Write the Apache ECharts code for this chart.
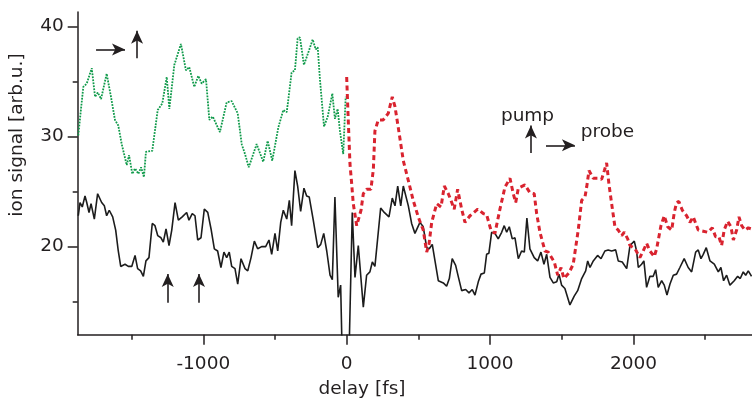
<!DOCTYPE html>
<html>
<head>
<meta charset="utf-8">
<script src="https://cdn.jsdelivr.net/npm/echarts@6/dist/echarts.min.js"></script>
<style>
  html, body { margin: 0; padding: 0; background: #fff; }
  #chart { width: 752px; height: 398px; }
</style>
</head>
<body>
<div id="chart"></div>
<script>
// delay [fs], ion signal [arb.u.]
const greenTrace = [
  [-1872,30.1],[-1837,34.5],[-1813,34.8],[-1778,36.2],[-1755,33.6],[-1736,34.0],[-1713,33.4],
  [-1674,35.7],[-1644,33.6],[-1616,31.5],[-1593,31.0],[-1569,29.3],[-1534,27.4],[-1518,28.3],
  [-1495,26.6],[-1476,27.1],[-1453,26.6],[-1434,27.2],[-1414,26.3],[-1400,28.6],[-1356,28.7],
  [-1318,32.4],[-1286,33.0],[-1255,35.4],[-1237,32.5],[-1202,36.5],[-1156,38.4],[-1121,36.0],
  [-1098,36.3],[-1063,34.5],[-1035,35.5],[-1011,34.8],[-981,35.2],[-958,31.5],[-934,31.8],
  [-884,30.4],[-837,33.1],[-802,33.2],[-760,32.1],[-732,29.3],[-709,28.4],[-683,27.2],[-628,29.3],
  [-582,27.7],[-551,29.6],[-519,27.8],[-477,30.8],[-442,32.4],[-418,32.2],[-384,35.8],[-361,36.0],
  [-342,38.9],[-326,39.0],[-298,36.5],[-263,37.8],[-237,38.8],[-216,37.9],[-202,38.1],[-186,35.1],
  [-158,30.9],[-132,31.8],[-100,33.9],[-82,31.6],[-63,32.5],[-47,30.5],[-24,28.4],[-7,33.6]
];

const blackTrace = [
  [-1872,22.8],[-1860,24.0],[-1844,23.6],[-1825,24.6],[-1813,24.0],[-1797,23.1],[-1783,23.9],
  [-1760,22.5],[-1737,24.8],[-1709,24.0],[-1690,23.7],[-1674,22.8],[-1656,23.3],[-1632,22.7],
  [-1611,21.5],[-1593,19.6],[-1576,18.2],[-1546,18.4],[-1523,18.2],[-1499,18.2],[-1476,19.2],
  [-1458,18.0],[-1437,17.8],[-1418,17.3],[-1400,18.7],[-1379,19.0],[-1356,22.1],[-1337,21.9],
  [-1318,21.0],[-1295,20.8],[-1279,20.4],[-1260,21.6],[-1239,20.1],[-1220,21.5],[-1197,24.0],
  [-1174,22.4],[-1147,22.7],[-1116,23.1],[-1100,22.4],[-1077,23.0],[-1058,22.8],[-1039,20.6],
  [-1016,20.8],[-993,23.4],[-969,23.1],[-946,21.6],[-923,19.8],[-900,19.6],[-877,18.1],
  [-856,19.5],[-837,19.0],[-819,19.5],[-802,18.2],[-779,18.0],[-760,16.6],[-737,18.9],
  [-709,18.0],[-690,17.8],[-667,19.0],[-644,20.5],[-621,19.8],[-593,20.0],[-565,20.0],
  [-542,20.6],[-523,19.3],[-500,21.2],[-481,19.6],[-460,22.2],[-442,23.3],[-418,22.5],
  [-400,24.2],[-384,21.9],[-361,26.9],[-342,25.5],[-321,23.2],[-298,25.3],[-279,24.6],
  [-261,24.5],[-233,22.4],[-202,19.9],[-181,20.2],[-160,21.2],[-139,19.6],[-116,17.4],
  [-100,17.0],[-82,24.5],[-59,15.4],[-42,16.5],[-31,10],[16,10],[39,23.1],[58,17.2],[81,20.1],
  [116,14.5],[139,17.4],[162,17.7],[179,18.6],[197,18.2],[237,23.5],[262,23.1],[295,22.7],
  [318,24.4],[337,23.7],[356,25.5],[377,23.7],[395,25.5],[430,23.7],[453,22.1],[476,21.2],
  [511,22.2],[534,21.8],[558,19.9],[576,19.8],[597,20.2],[616,18.7],[639,16.9],[674,16.7],
  [697,16.4],[716,17.1],[736,18.9],[760,18.3],[778,17.3],[802,16.0],[830,16.1],[853,15.8],
  [876,16.1],[895,15.6],[918,16.8],[937,17.5],[960,17.6],[976,19.3],[992,19.4],[1011,21.3],
  [1034,21.2],[1057,20.7],[1081,21.3],[1099,21.9],[1116,21.3],[1134,21.8],[1155,20.7],
  [1174,20.8],[1197,18.9],[1220,19.6],[1239,19.5],[1257,22.6],[1278,19.8],[1308,19.0],
  [1332,18.7],[1355,19.5],[1376,18.4],[1395,19.3],[1418,17.2],[1441,16.7],[1465,16.8],
  [1481,17.5],[1499,16.5],[1522,16.2],[1557,14.7],[1587,15.5],[1611,16.0],[1639,17.1],
  [1667,17.8],[1681,18.7],[1697,18.1],[1720,18.7],[1750,19.2],[1774,18.9],[1801,19.6],
  [1824,19.7],[1848,19.6],[1876,19.7],[1894,18.7],[1922,18.6],[1953,18.0],[1976,20.1],
  [2006,20.5],[2022,19.6],[2034,18.1],[2057,18.4],[2073,18.7],[2092,16.3],[2115,17.3],
  [2138,17.3],[2155,17.9],[2173,16.3],[2197,16.9],[2215,16.5],[2234,15.6],[2255,16.6],
  [2278,17.4],[2301,17.5],[2324,18.1],[2354,18.9],[2382,18.1],[2406,17.7],[2434,19.5],
  [2452,19.7],[2471,18.9],[2487,19.3],[2508,19.9],[2534,18.7],[2564,18.4],[2592,17.7],
  [2610,18.1],[2629,16.9],[2650,17.4],[2673,16.5],[2703,16.9],[2727,17.3],[2745,17.1],
  [2766,17.7],[2783,17.4],[2801,17.8],[2824,17.3]
];

const redTrace = [
  [0,35.4],[11,31.5],[23,27.5],[35,25.7],[46,23.9],[70,21.9],[100,23.3],[116,24.8],[139,25.2],
  [169,25.2],[186,27.0],[197,30.5],[220,31.5],[255,31.5],[290,32.1],[318,33.6],[337,32.7],
  [360,30.8],[395,27.8],[430,26.0],[464,24.2],[499,22.7],[534,21.5],[558,19.5],[574,20.2],
  [593,22.2],[628,23.9],[658,23.6],[681,25.5],[709,24.8],[727,24.2],[750,23.4],[774,25.2],
  [802,23.4],[825,22.2],[860,22.8],[914,23.4],[953,23.0],[976,22.9],[1006,21.5],[1034,21.2],
  [1069,23.4],[1104,25.4],[1139,26.2],[1162,24.8],[1179,24.0],[1197,25.3],[1243,25.6],
  [1278,24.9],[1308,24.8],[1325,23.0],[1348,21.3],[1383,19.6],[1406,19.5],[1448,18.6],
  [1472,17.4],[1495,18.1],[1515,17.1],[1550,17.6],[1580,18.4],[1615,21.5],[1639,24.2],
  [1662,24.5],[1674,25.4],[1690,26.9],[1720,26.2],[1750,26.2],[1778,26.1],[1797,26.9],
  [1813,27.6],[1829,25.7],[1848,23.9],[1871,21.8],[1894,21.5],[1918,21.0],[1936,21.3],
  [1960,20.7],[1976,20.1],[2011,19.8],[2045,19.0],[2068,19.6],[2092,20.3],[2115,19.6],
  [2145,19.1],[2162,19.8],[2192,21.9],[2215,22.8],[2239,21.8],[2267,21.5],[2285,23.1],
  [2301,24.0],[2317,24.1],[2341,23.3],[2371,22.8],[2394,22.2],[2417,22.7],[2452,21.5],
  [2487,21.4],[2518,21.3],[2550,21.7],[2573,20.9],[2596,20.9],[2615,20.1],[2633,21.5],
  [2657,22.3],[2680,21.8],[2697,20.6],[2720,21.5],[2736,22.7],[2755,21.9],[2778,21.5],
  [2801,21.7],[2824,21.6]
];

const xMajorTicks = [-1000, 0, 1000, 2000];
const xMinorTicks = [-1500, -500, 500, 1500, 2500];
const yMajorTicks = [20, 30, 40];
const yMinorTicks = [15, 25, 35];

// arrows: [from, to] in delay / signal units
const arrows = [
  [[-1748, 37.9], [-1546, 37.9]],
  [[-1462, 37.1], [-1462, 39.6]],
  [[-1248, 14.9], [-1248, 17.5]],
  [[-1030, 14.9], [-1030, 17.5]],
  [[1285, 28.5], [1285, 31.0]],
  [[1390, 29.2], [1592, 29.2]]
];

const ink = '#231f20';
const font = 'DejaVu Sans';
const fs = 18.5;

const xRange = { min: -1876, max: 2827 };
const yRange = { min: 12, max: 41.3 };
const plain = (v) => String(v);

const chart = echarts.init(document.getElementById('chart'), null, { renderer: 'canvas' });

chart.setOption({
  animation: false,
  grid: { left: 77.7, right: 0, top: 12, bottom: 63.3, containLabel: false },
  xAxis: [
    {
      type: 'value', ...xRange,
      axisLine: { show: true, onZero: false, lineStyle: { color: ink, width: 1.5 } },
      axisTick: { show: true, customValues: xMajorTicks, length: 10, lineStyle: { color: ink, width: 1.5 } },
      axisLabel: { customValues: xMajorTicks, formatter: plain, margin: 20, color: ink, fontFamily: font, fontSize: fs },
      splitLine: { show: false }
    },
    {
      type: 'value', ...xRange, position: 'bottom',
      axisLine: { show: false, onZero: false },
      axisTick: { show: true, customValues: xMinorTicks, length: 5, lineStyle: { color: ink, width: 1.5 } },
      axisLabel: { show: false },
      splitLine: { show: false }
    }
  ],
  yAxis: [
    {
      type: 'value', ...yRange,
      axisLine: { show: true, onZero: false, lineStyle: { color: ink, width: 1.5 } },
      axisTick: { show: true, customValues: yMajorTicks, length: 10, lineStyle: { color: ink, width: 1.5 } },
      axisLabel: { customValues: yMajorTicks, formatter: plain, margin: 14, color: ink, fontFamily: font, fontSize: fs },
      splitLine: { show: false }
    },
    {
      type: 'value', ...yRange, position: 'left',
      axisLine: { show: false, onZero: false },
      axisTick: { show: true, customValues: yMinorTicks, length: 5, lineStyle: { color: ink, width: 1.5 } },
      axisLabel: { show: false },
      splitLine: { show: false }
    }
  ],
  series: [
    {
      name: 'ion', type: 'line', data: blackTrace, showSymbol: false, clip: true, z: 2,
      lineStyle: { color: '#1c1c1c', width: 1.6 },
      markLine: {
        silent: true, animation: false,
        symbol: ['none', 'arrow'], symbolSize: [9, 13],
        label: { show: false },
        lineStyle: { color: ink, width: 1.6, type: 'solid' },
        emphasis: { disabled: true },
        data: arrows.map(([a, b]) => [{ coord: a }, { coord: b }])
      }
    },
    {
      name: 'green', type: 'line', data: greenTrace, showSymbol: false, z: 3,
      lineStyle: { color: '#0f9a4a', width: 1.8, type: [1.8, 1.2] }
    },
    {
      name: 'red', type: 'line', data: redTrace, showSymbol: false, z: 4,
      lineStyle: { color: '#d9232f', width: 3, type: [5, 3.5] }
    }
  ],
  graphic: [
    { type: 'text', x: 17, y: 135, rotation: Math.PI / 2,
      style: { text: 'ion signal [arb.u.]', fill: ink, font: fs + 'px "' + font + '"', align: 'center', verticalAlign: 'middle' } },
    { type: 'text', x: 362, y: 389,
      style: { text: 'delay [fs]', fill: ink, font: fs + 'px "' + font + '"', align: 'center', verticalAlign: 'middle' } },
    { type: 'text', x: 527.5, y: 116.5,
      style: { text: 'pump', fill: ink, font: fs + 'px "' + font + '"', align: 'center', verticalAlign: 'middle' } },
    { type: 'text', x: 580.7, y: 131.8,
      style: { text: 'probe', fill: ink, font: fs + 'px "' + font + '"', align: 'left', verticalAlign: 'middle' } }
  ]
});
</script>
</body>
</html>
